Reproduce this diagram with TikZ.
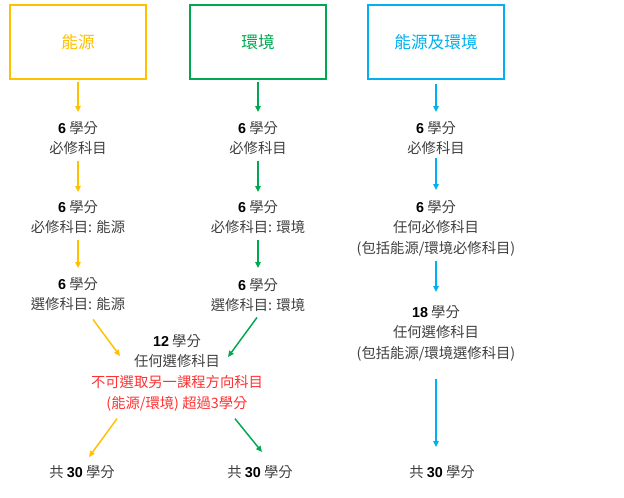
\documentclass[tikz,border=0pt]{standalone}
\usepackage{fontspec}
\setmainfont{Noto Sans CJK TC}
\newfontfamily\numfont{Liberation Sans}
\usepackage{xcolor}
\usetikzlibrary{arrows.meta,calc,positioning}
\definecolor{nyellow}{RGB}{255,192,0}
\definecolor{ngreen}{RGB}{0,168,80}
\definecolor{nblue}{RGB}{0,176,240}
\definecolor{nred}{RGB}{255,50,50}
\definecolor{ngray}{RGB}{64,64,64}
\newcommand{\nb}[1]{{\numfont\bfseries\color{black}#1}}
\tikzset{
  titlebox/.style={draw, line width=1.5pt, inner sep=0pt, minimum width=102pt, minimum height=55.5pt, font=\fontsize{12.5}{14}\selectfont},
  info/.style={anchor=north, align=center, inner sep=0pt, text=ngray, font=\fontsize{10.75}{15.6}\selectfont},
  flow/.style={-{Triangle[length=4.5pt,width=4pt]}, line width=1.1pt},
}
\begin{document}
\begin{tikzpicture}[x=0.75pt,y=0.75pt,yscale=-1,xscale=1]
\useasboundingbox (0,0) rectangle (624,497);

%Title boxes
\node[titlebox, draw=nyellow, text=nyellow] (energy) at (78,42) {能源};
\node[titlebox, draw=ngreen, text=ngreen] (envir) at (258,42) {環境};
\node[titlebox, draw=nblue, text=nblue] (both) at (436,42) {能源及環境};

%Energy column
\node[info] (ey1) at (78,121) {\nb{6} 學分\\必修科目};
\node[info] (ey2) at (78,200) {\nb{6} 學分\\必修科目: 能源};
\node[info] (ey3) at (78,277) {\nb{6} 學分\\選修科目: 能源};
\node[info] (eytot) at (82,465) {共 \nb{30} 學分};

%Environment column
\node[info] (en1) at (258,121) {\nb{6} 學分\\必修科目};
\node[info] (en2) at (258,200) {\nb{6} 學分\\必修科目: 環境};
\node[info] (en3) at (258,278) {\nb{6} 學分\\選修科目: 環境};
\node[info] (entot) at (260,465) {共 \nb{30} 學分};

%Shared elective
\node[info] (mid) at (177,334) {\nb{12} 學分\\任何選修科目\\\textcolor{nred}{不可選取另一課程方向科目}\\\textcolor{nred}{(能源/環境) 超過3學分}};

%Both column
\node[info] (bo1) at (436,121) {\nb{6} 學分\\必修科目};
\node[info] (bo2) at (436,200) {\nb{6} 學分\\任何必修科目\\(包括能源/環境必修科目)};
\node[info] (bo3) at (436,305) {\nb{18} 學分\\任何選修科目\\(包括能源/環境選修科目)};
\node[info] (botot) at (442,465) {共 \nb{30} 學分};

%Energy arrows
\draw[flow, nyellow, shorten <=1.5pt, shorten >=6.75pt] (energy.south) -- (ey1.north);
\draw[flow, nyellow, shorten <=4.5pt, shorten >=6pt] (ey1.south) -- (ey2.north);
\draw[flow, nyellow, shorten <=4.5pt, shorten >=6.75pt] (ey2.south) -- (ey3.north);
\draw[flow, nyellow] ($(ey3.south)+(15,8)$) -- ($(mid.north)+(-57,22)$);
\draw[flow, nyellow] ($(mid.south)+(-60,7)$) -- ($(eytot.north)+(7,-8)$);

%Environment arrows
\draw[flow, ngreen, shorten <=1.5pt, shorten >=6.75pt] (envir.south) -- (en1.north);
\draw[flow, ngreen, shorten <=4.5pt, shorten >=6pt] (en1.south) -- (en2.north);
\draw[flow, ngreen, shorten <=4.5pt, shorten >=7.5pt] (en2.south) -- (en3.north);
\draw[flow, ngreen] ($(en3.south)+(-1,5)$) -- ($(mid.north)+(51,23)$);
\draw[flow, ngreen] ($(mid.south)+(58,7)$) -- ($(entot.north)+(2,-13)$);

%Both arrows
\draw[flow, nblue, shorten <=3pt, shorten >=6.75pt] (both.south) -- (bo1.north);
\draw[flow, nblue, shorten <=2.25pt, shorten >=7.5pt] (bo1.south) -- (bo2.north);
\draw[flow, nblue, shorten <=3pt, shorten >=9.75pt] (bo2.south) -- (bo3.north);
\draw[flow, nblue, shorten <=12.75pt, shorten >=13.5pt] (bo3.south) -- (bo3.south |- botot.north);

\end{tikzpicture}
\end{document}
